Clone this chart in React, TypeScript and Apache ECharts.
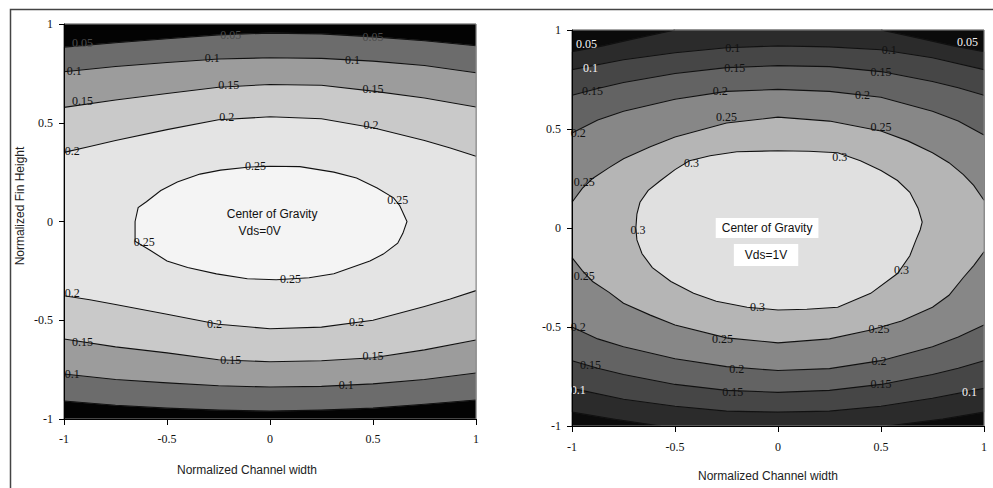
import React, { useEffect, useRef } from "react";
import * as echarts from "echarts";

// ---------- left panel (Vds = 0V) contour lines ----------
const L05_TOP = [[-1,0.883],[-0.75,0.905],[-0.5,0.925],[-0.25,0.945],[0,0.954],[0.25,0.95],[0.5,0.935],[0.75,0.915],[1,0.89]];
const L05_BOT = [[-1,-0.909],[-0.75,-0.93],[-0.5,-0.945],[-0.25,-0.955],[0,-0.96],[0.25,-0.955],[0.5,-0.945],[0.75,-0.925],[1,-0.904]];
const L10_TOP = [[-1,0.758],[-0.75,0.785],[-0.5,0.805],[-0.25,0.823],[0,0.829],[0.25,0.826],[0.5,0.812],[0.75,0.79],[1,0.753]];
const L10_BOT = [[-1,-0.772],[-0.75,-0.8],[-0.5,-0.817],[-0.25,-0.832],[0,-0.838],[0.25,-0.835],[0.5,-0.822],[0.75,-0.8],[1,-0.767]];
const L15_TOP = [[-1,0.578],[-0.75,0.615],[-0.5,0.648],[-0.25,0.68],[0,0.694],[0.25,0.69],[0.5,0.66],[0.75,0.625],[1,0.58]];
const L15_BOT = [[-1,-0.595],[-0.75,-0.635],[-0.5,-0.665],[-0.25,-0.7],[0,-0.71],[0.25,-0.705],[0.5,-0.69],[0.75,-0.65],[1,-0.6]];
const L20_TOP = [[-1,0.35],[-0.875,0.38],[-0.75,0.41],[-0.5,0.465],[-0.25,0.515],[0,0.53],[0.25,0.52],[0.5,0.475],[0.75,0.41],[0.875,0.372],[1,0.33]];
const L20_BOT = [[-1,-0.376],[-0.875,-0.396],[-0.75,-0.42],[-0.5,-0.47],[-0.25,-0.52],[0,-0.543],[0.25,-0.535],[0.5,-0.5],[0.75,-0.43],[0.875,-0.392],[1,-0.35]];
const L25_RING = [[-0.655,0],[-0.64,0.07],[-0.6,0.1],[-0.53,0.157],[-0.45,0.2],[-0.34,0.24],[-0.24,0.26],[-0.11,0.275],[0,0.28],[0.145,0.278],[0.31,0.25],[0.42,0.22],[0.52,0.17],[0.6,0.12],[0.63,0.08],[0.665,0],[0.645,-0.06],[0.62,-0.11],[0.55,-0.165],[0.485,-0.2],[0.31,-0.265],[0.19,-0.285],[0.03,-0.295],[-0.11,-0.29],[-0.26,-0.265],[-0.4,-0.233],[-0.5,-0.2],[-0.58,-0.147],[-0.655,-0.1],[-0.655,0]];

const L_LABELS_DARK = [
  [-0.28,0.83,"0.1"],[0.40,0.82,"0.1"],[-0.95,0.76,"0.1"],
  [-0.20,0.69,"0.15"],[0.50,0.67,"0.15"],[-0.91,0.61,"0.15"],
  [-0.21,0.53,"0.2"],[0.49,0.49,"0.2"],[-0.96,0.355,"0.2"],
  [-0.07,0.28,"0.25"],[0.62,0.11,"0.25"],[-0.61,-0.105,"0.25"],[0.10,-0.29,"0.25"],
  [-0.96,-0.36,"0.2"],[-0.27,-0.52,"0.2"],[0.42,-0.51,"0.2"],
  [-0.91,-0.61,"0.15"],[-0.19,-0.70,"0.15"],[0.50,-0.68,"0.15"],
  [-0.96,-0.77,"0.1"],[0.37,-0.83,"0.1"],
];
const L_LABELS_HIDDEN = [[-0.91,0.905,"0.05"],[-0.19,0.945,"0.05"],[0.5,0.935,"0.05"]];
const L_NOTES = [[0.01,0.04,"Center of Gravity"],[-0.05,-0.046,"Vds=0V"]];

// ---------- right panel (Vds = 1V) contour lines ----------
const R05_TL = [[-1,0.89],[-0.85,0.92],[-0.7,0.955],[-0.5,1]];
const R05_TR = [[0.5,1],[0.7,0.955],[0.85,0.92],[1,0.89]];
const R05_BL = [[-1,-0.93],[-0.8,-0.965],[-0.57,-1]];
const R05_BR = [[0.53,-1],[0.8,-0.965],[1,-0.93]];
const R10_TOP = [[-1,0.80],[-0.75,0.85],[-0.5,0.885],[-0.25,0.91],[0,0.92],[0.25,0.915],[0.5,0.9],[0.75,0.86],[1,0.80]];
const R10_BOT = [[-1,-0.81],[-0.75,-0.865],[-0.5,-0.9],[-0.25,-0.925],[0,-0.93],[0.25,-0.925],[0.5,-0.9],[0.75,-0.86],[1,-0.81]];
const R15_TOP = [[-1,0.67],[-0.875,0.705],[-0.75,0.735],[-0.5,0.78],[-0.25,0.81],[0,0.82],[0.25,0.815],[0.5,0.79],[0.75,0.74],[0.875,0.708],[1,0.67]];
const R15_BOT = [[-1,-0.67],[-0.875,-0.708],[-0.75,-0.74],[-0.5,-0.79],[-0.25,-0.82],[0,-0.83],[0.25,-0.82],[0.5,-0.79],[0.75,-0.74],[0.875,-0.708],[1,-0.67]];
const R20_TOP = [[-1,0.48],[-0.875,0.545],[-0.75,0.59],[-0.5,0.65],[-0.25,0.69],[0,0.70],[0.25,0.69],[0.5,0.66],[0.75,0.59],[0.875,0.54],[1,0.47]];
const R20_BOT = [[-1,-0.50],[-0.875,-0.56],[-0.75,-0.60],[-0.5,-0.66],[-0.25,-0.70],[0,-0.72],[0.25,-0.71],[0.5,-0.67],[0.75,-0.60],[0.875,-0.55],[1,-0.49]];
const R25_TOP = [[-1,0.13],[-0.95,0.2],[-0.9,0.25],[-0.82,0.305],[-0.75,0.35],[-0.62,0.41],[-0.5,0.46],[-0.25,0.53],[0,0.56],[0.25,0.54],[0.5,0.49],[0.63,0.44],[0.75,0.38],[0.83,0.33],[0.9,0.27],[0.95,0.215],[1,0.14]];
const R25_BOT = [[-1,-0.15],[-0.95,-0.215],[-0.9,-0.27],[-0.82,-0.325],[-0.75,-0.38],[-0.62,-0.44],[-0.5,-0.49],[-0.25,-0.555],[0,-0.58],[0.25,-0.56],[0.45,-0.515],[0.6,-0.47],[0.75,-0.40],[0.83,-0.34],[0.9,-0.25],[0.95,-0.19],[1,-0.12]];
const R30_RING = [[-0.69,0],[-0.685,0.07],[-0.67,0.13],[-0.63,0.19],[-0.57,0.24],[-0.5,0.295],[-0.43,0.34],[-0.33,0.365],[-0.2,0.385],[0,0.39],[0.15,0.388],[0.29,0.38],[0.4,0.34],[0.5,0.29],[0.58,0.24],[0.64,0.18],[0.68,0.1],[0.70,0.03],[0.69,-0.01],[0.67,-0.06],[0.64,-0.14],[0.58,-0.23],[0.45,-0.33],[0.29,-0.4],[0.14,-0.41],[0,-0.414],[-0.15,-0.4],[-0.3,-0.37],[-0.41,-0.33],[-0.52,-0.27],[-0.61,-0.2],[-0.66,-0.13],[-0.685,-0.06],[-0.69,0]];

const R_LABELS_DARK = [
  [-0.22,0.91,"0.1"],[0.54,0.90,"0.1"],
  [-0.21,0.81,"0.15"],[0.50,0.79,"0.15"],[-0.90,0.69,"0.15"],
  [-0.28,0.69,"0.2"],[0.41,0.67,"0.2"],[-0.97,0.48,"0.2"],
  [-0.25,0.56,"0.25"],[0.50,0.51,"0.25"],[-0.94,0.23,"0.25"],
  [-0.42,0.33,"0.3"],[0.30,0.36,"0.3"],[-0.68,-0.01,"0.3"],[0.60,-0.21,"0.3"],[-0.10,-0.40,"0.3"],
  [-0.94,-0.24,"0.25"],[-0.27,-0.56,"0.25"],[0.49,-0.51,"0.25"],
  [-0.97,-0.50,"0.2"],[-0.20,-0.71,"0.2"],[0.49,-0.67,"0.2"],
  [-0.91,-0.69,"0.15"],[-0.22,-0.83,"0.15"],[0.50,-0.79,"0.15"],
];
const R_LABELS_LIGHT = [
  [-0.93,0.93,"0.05"],[0.92,0.94,"0.05"],[-0.91,0.81,"0.1"],
  [-0.97,-0.82,"0.1"],[0.93,-0.83,"0.1"],
];
const R_NOTES = [[-0.053,0,"Center of Gravity"],[-0.058,-0.136,"Vds=1V"]];

const FULL = [[-1,-1],[-1,1],[1,1],[1,-1]];
const band = (top: number[][], bot: number[][]) => top.concat(bot.slice().reverse());

const LEFT_FILLS = [
  { pts: FULL, color: "#030303" },
  { pts: band(L05_TOP, L05_BOT), color: "#6c6c6c" },
  { pts: band(L10_TOP, L10_BOT), color: "#9c9c9c" },
  { pts: band(L15_TOP, L15_BOT), color: "#c9c9c9" },
  { pts: band(L20_TOP, L20_BOT), color: "#e4e4e4" },
  { pts: L25_RING, color: "#f4f4f4" },
];
const LEFT_LINES = [L05_TOP, L05_BOT, L10_TOP, L10_BOT, L15_TOP, L15_BOT, L20_TOP, L20_BOT, L25_RING];

const RIGHT_FILLS = [
  { pts: FULL, color: "#0b0b0b" },
  { pts: R05_TL.concat(R05_TR, R05_BR.slice().reverse(), R05_BL.slice().reverse()), color: "#2b2b2b" },
  { pts: band(R10_TOP, R10_BOT), color: "#464646" },
  { pts: band(R15_TOP, R15_BOT), color: "#636363" },
  { pts: band(R20_TOP, R20_BOT), color: "#878787" },
  { pts: band(R25_TOP, R25_BOT), color: "#b5b5b5" },
  { pts: R30_RING, color: "#e0e0e0" },
];
const RIGHT_LINES = [R05_TL, R05_TR, R05_BL, R05_BR, R10_TOP, R10_BOT, R15_TOP, R15_BOT, R20_TOP, R20_BOT, R25_TOP, R25_BOT, R30_RING];

const LABEL_FONT = "12px 'Liberation Serif'";
const NOTE_FONT = "12px 'Liberation Sans'";

function makeRender(fills: any[], lines: any[], darkLabels: any[], lightLabels: any[], hiddenLabels: any[], notes: any[], noteBg: boolean) {
  return (params: any, api: any) => {
    const c = (p: number[]) => api.coord(p);
    const children: any[] = [];
    fills.forEach((f) => {
      children.push({ type: "polygon", shape: { points: f.pts.map(c) }, style: { fill: f.color, stroke: f.color, lineWidth: 0.5 } });
    });
    lines.forEach((l) => {
      children.push({ type: "polyline", shape: { points: l.map(c) }, style: { stroke: "#111", lineWidth: 1.1, fill: null } });
    });
    const tl = c([-1, 1]);
    const br = c([1, -1]);
    children.push({ type: "rect", shape: { x: tl[0], y: tl[1], width: br[0] - tl[0], height: br[1] - tl[1] }, style: { fill: null, stroke: "#8a8a8a", lineWidth: 1 } });
    const addLabels = (arr: any[], color: string) => arr.forEach((d) => {
      const p = c([d[0], d[1]]);
      children.push({ type: "text", x: p[0], y: p[1], style: { text: d[2], font: LABEL_FONT, fill: color, align: "center", verticalAlign: "middle" } });
    });
    addLabels(hiddenLabels, "#4a4a4a");
    addLabels(darkLabels, "#111");
    addLabels(lightLabels, "#f4f4f4");
    notes.forEach((d) => {
      const p = c([d[0], d[1]]);
      const st: any = { text: d[2], font: NOTE_FONT, fill: "#111", align: "center", verticalAlign: "middle" };
      if (noteBg) { st.backgroundColor = "#ffffff"; st.padding = d[2].length > 8 ? [4, 6] : [5, 11]; }
      children.push({ type: "text", x: p[0], y: p[1], style: st });
    });
    return { type: "group", children };
  };
}

function axisCommon(margin: number, tickLen: number) {
  return {
    type: "value", min: -1, max: 1, interval: 0.5,
    axisLine: { show: true, onZero: false, lineStyle: { color: "#000", width: 1 } },
    axisTick: { show: true, length: tickLen, lineStyle: { color: "#000" } },
    axisLabel: { margin, fontFamily: "Liberation Serif", fontSize: 12, color: "#111", formatter: (v: number) => String(v) },
    splitLine: { show: false },
    z: 10,
  };
}

export default function App() {
  const ref = useRef<HTMLDivElement>(null);
  useEffect(() => {
    if (!ref.current) return;
    const chart = echarts.init(ref.current, null, { renderer: "svg" });
    chart.setOption({
      animation: false,
      backgroundColor: "#ffffff",
      grid: [
        { left: 64, top: 24, width: 412, height: 395, show: false },
        { left: 572, top: 30, width: 412, height: 396, show: false },
      ],
      xAxis: [
        { ...axisCommon(14, 6), gridIndex: 0 },
        { ...axisCommon(15, 6), gridIndex: 1 },
      ],
      yAxis: [
        { ...axisCommon(11, 5), gridIndex: 0 },
        { ...axisCommon(11, 5), gridIndex: 1 },
      ],
      series: [
        {
          type: "custom", xAxisIndex: 0, yAxisIndex: 0, silent: true, clip: false,
          data: [[0, 0]],
          renderItem: makeRender(LEFT_FILLS, LEFT_LINES, L_LABELS_DARK, [], L_LABELS_HIDDEN, L_NOTES, false),
        },
        {
          type: "custom", xAxisIndex: 1, yAxisIndex: 1, silent: true, clip: false,
          data: [[0, 0]],
          renderItem: makeRender(RIGHT_FILLS, RIGHT_LINES, R_LABELS_DARK, R_LABELS_LIGHT, [], R_NOTES, true),
        },
      ],
      graphic: [
        { type: "rect", left: 8, top: 7, shape: { width: 1010, height: 520 }, style: { fill: null, stroke: "#444", lineWidth: 1.5 }, silent: true },
        { type: "text", x: 20, y: 206, rotation: Math.PI / 2, style: { text: "Normalized Fin Height", font: "12px 'Liberation Sans'", fill: "#222", align: "center", verticalAlign: "middle" } },
        { type: "text", x: 247, y: 470, style: { text: "Normalized Channel width", font: "12px 'Liberation Sans'", fill: "#222", align: "center", verticalAlign: "middle" } },
        { type: "text", x: 768, y: 476, style: { text: "Normalized Channel width", font: "12px 'Liberation Sans'", fill: "#222", align: "center", verticalAlign: "middle" } },
      ],
    });
    return () => chart.dispose();
  }, []);
  return <div ref={ref} style={{ position: "fixed", left: 0, top: 0, width: 993, height: 488 }} />;
}
